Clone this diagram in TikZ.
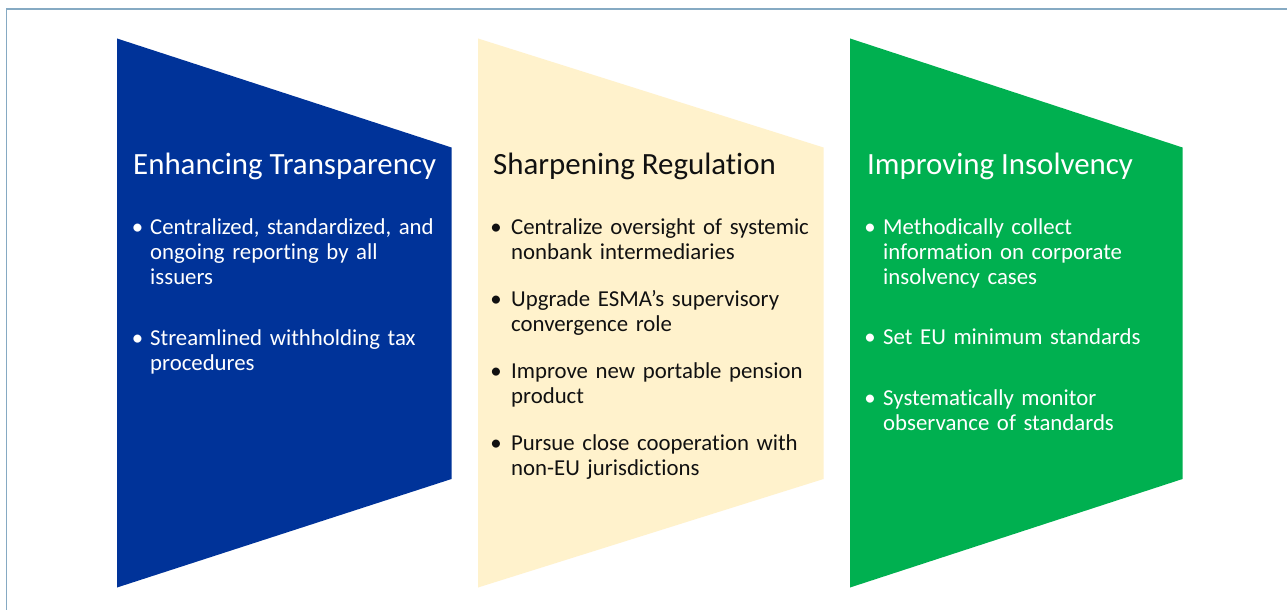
\documentclass[tikz,border=0pt]{standalone}
\usepackage{fontspec}
\setmainfont[Ligatures=NoCommon]{Carlito}
\definecolor{eublue}{HTML}{003399}
\definecolor{eubeige}{HTML}{FFF2CC}
\definecolor{eugreen}{HTML}{00B050}
\definecolor{frame}{HTML}{86AAC3}
\definecolor{darktext}{HTML}{111111}
\begin{document}
\begin{tikzpicture}[x=1pt,y=-1pt,
  title/.style={anchor=base west,inner sep=0pt,font={\fontsize{30.9}{36}\selectfont}},
  item/.style={anchor=base west,inner sep=0pt,text width=320pt,align=left,font={\fontsize{22.8}{25}\selectfont}},
  dot/.style={anchor=base,inner sep=0pt,font={\fontsize{22.8}{25}\selectfont}}]
\useasboundingbox (0,0) rectangle (1287,610);
\fill[white] (0,0) rectangle (1287,610);
\draw[frame,line width=1.5pt] (6.5,615) -- (6.5,9) -- (1292,9);
% shapes
\fill[eublue]  (117,38.5) -- (451.5,147.5) -- (451.5,479) -- (117,587.5) -- cycle;
\fill[eubeige] (478,38.5) -- (823.5,147.5) -- (823.5,479) -- (478,587.5) -- cycle;
\fill[eugreen] (850,38.5) -- (1182.5,147.5) -- (1182.5,479) -- (850,587.5) -- cycle;
% panel 1
\begin{scope}[every node/.append style={text=white}]
\node[title] (t1) at (133,174) {Enhancing Transparency};
\node[dot] (d11) at (137.5,234.5) {•};
\node[item] (i11) at (150,234.5) {Centralized, standardized, and\\ongoing reporting by all\\issuers};
\node[dot] (d12) at (137.5,345) {•};
\node[item] (i12) at (150,345) {Streamlined withholding tax\\procedures};
\end{scope}
% panel 2
\begin{scope}[every node/.append style={text=darktext}]
\node[title] (t2) at (493,174) {Sharpening Regulation};
\node[dot] (d21) at (496,234.5) {•};
\node[item] (i21) at (511,234.5) {Centralize oversight of systemic\\nonbank intermediaries};
\node[dot] (d22) at (496,306.5) {•};
\node[item] (i22) at (511,306.5) {Upgrade ESMA’s supervisory\\convergence role};
\node[dot] (d23) at (496,378.5) {•};
\node[item] (i23) at (511,378.5) {Improve new portable pension\\product};
\node[dot] (d24) at (496,450) {•};
\node[item] (i24) at (511,450) {Pursue close cooperation with\\non-EU jurisdictions};
\end{scope}
% panel 3
\begin{scope}[every node/.append style={text=white}]
\node[title] (t3) at (867,174) {Improving Insolvency};
\node[dot] (d31) at (870,234.5) {•};
\node[item] (i31) at (883,234.5) {Methodically collect\\information on corporate\\insolvency cases};
\node[dot] (d32) at (870,344.5) {•};
\node[item] (i32) at (883,344.5) {Set EU minimum standards};
\node[dot] (d33) at (870,405) {•};
\node[item] (i33) at (883,405) {Systematically monitor\\observance of standards};
\end{scope}
\end{tikzpicture}
\end{document}
